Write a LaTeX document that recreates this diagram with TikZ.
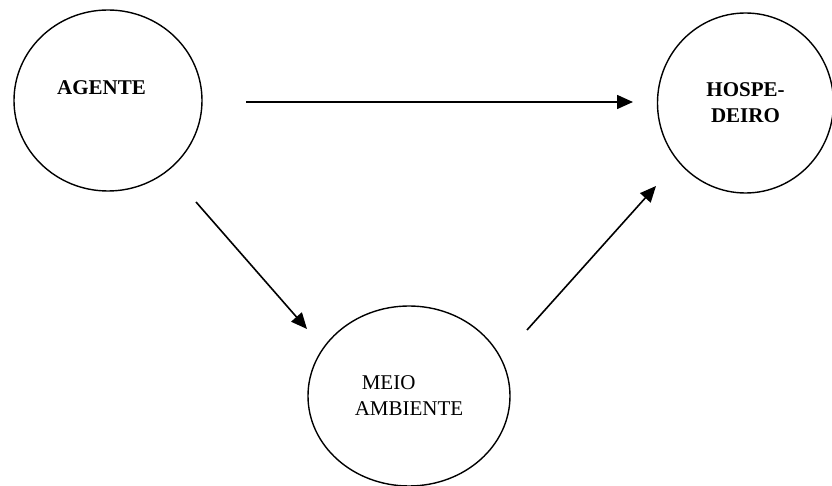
\documentclass[tikz,border=0pt]{standalone}
\usepackage{fontspec}
\setmainfont{Liberation Serif}
\usetikzlibrary{arrows.meta, shapes.geometric}

\begin{document}
\begin{tikzpicture}[
		x=0.5pt, y=-0.5pt,
		every node/.style={font=\fontsize{10.5}{13}\selectfont},
		factor/.style={draw, ellipse, line width=0.7pt, inner sep=0pt},
		arrow/.style={-{Triangle[length=8pt, width=7pt]}, line width=0.8pt}
	]
		\useasboundingbox (0,0) rectangle (832,486);
		\node[factor, minimum width=94pt, minimum height=90.5pt] (agente) at (108,100.5) {};
		\node[factor, minimum width=88pt, minimum height=90pt, align=center,
			font=\fontsize{10.5}{13}\selectfont\bfseries] (hospedeiro) at (745.5,103) {HOSPE-\\DEIRO};
		\node[factor, minimum width=101pt, minimum height=90pt, align=left] (meio) at (409,396)
			{\hspace{3.5pt}MEIO\\AMBIENTE};
		\node[font=\fontsize{10.5}{13}\selectfont\bfseries] (agentelbl) at (101.5,88) {AGENTE};
		\coordinate (topstart) at (246,102);
		\coordinate (topend) at (633,102);
		\coordinate (leftstart) at (196,202);
		\coordinate (leftend) at (307,329);
		\coordinate (rightstart) at (527,330);
		\coordinate (rightend) at (656,186);
		\draw[arrow] (topstart) -- (topend);
		\draw[arrow] (leftstart) -- (leftend);
		\draw[arrow] (rightstart) -- (rightend);
	\end{tikzpicture}
\end{document}
